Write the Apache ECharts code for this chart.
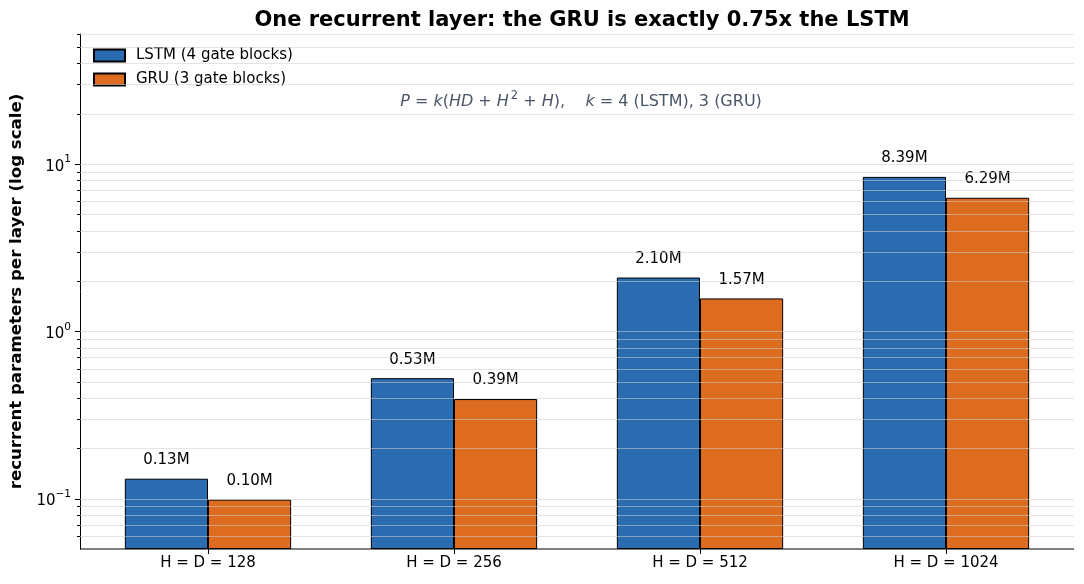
<!DOCTYPE html>
<html>
<head>
<meta charset="utf-8">
<script src="https://cdn.jsdelivr.net/npm/echarts@6/dist/echarts.min.js"></script>
<style>html,body{margin:0;padding:0;background:#fff}#c{width:1084px;height:584px}</style>
</head>
<body>
<div id="c"></div>
<script>
var categories = ['H = D = 128', 'H = D = 256', 'H = D = 512', 'H = D = 1024'];
var lstmValues = [0.1316, 0.5253, 2.0992, 8.3927];
var gruValues = [0.0987, 0.3940, 1.5744, 6.2945];
var majorTicks = [0.1, 1, 10];
var minorTicks = [0.06, 0.07, 0.08, 0.09, 0.2, 0.3, 0.4, 0.5, 0.6, 0.7, 0.8, 0.9,
                  2, 3, 4, 5, 6, 7, 8, 9, 20, 30, 40, 50, 60];

var FONT = 'DejaVu Sans';
var PAD = 5; // matplotlib x-margin beyond the category bands
var chart = echarts.init(document.getElementById('c'), null, {renderer: 'canvas'});

var gridData = [[0, 0.05, 2]]
  .concat(majorTicks.map(function (v) { return [0, v, 1]; }))
  .concat(minorTicks.map(function (v) { return [0, v, 0]; }));

function supLabel(v) {
  var e = Math.round(Math.log10(v));
  if (Math.abs(Math.log10(v) - e) > 1e-6) return '';
  var s = e < 0 ? '\u2212' + (-e) : String(e);
  return '{b|10}{s|' + s + '}';
}

var fStyle = {fontFamily: FONT, fontSize: 16, fontWeight: 'normal', color: '#4a5568', lineHeight: 22, verticalAlign: 'bottom'};
function ext(o, extra) { var r = {}; for (var k in o) r[k] = o[k]; for (var k2 in extra) r[k2] = extra[k2]; return r; }

var option = {
  animation: false,
  title: [
    {
      text: 'One recurrent layer: the GRU is exactly 0.75x the LSTM',
      left: 577, top: 5, textAlign: 'center',
      textStyle: {fontFamily: FONT, fontSize: 21, fontWeight: 'bold', color: '#000'}
    },
    {
      text: '{i|P}{r| = }{i|k}{r|(}{i|HD}{r| + }{i|H}{s|2}{r| + }{i|H}{r|),    }{i|k}{r| = 4 (LSTM), 3 (GRU)}',
      left: 576, top: 83, textAlign: 'center',
      textStyle: {
        fontWeight: 'normal',
        rich: {
          i: ext(fStyle, {fontStyle: 'italic'}),
          r: fStyle,
          s: ext(fStyle, {fontSize: 11.5, verticalAlign: 'top', padding: [2, 0, 0, 2]})
        }
      }
    }
  ],
  legend: {
    orient: 'vertical', left: 88, top: 43,
    itemWidth: 31, itemHeight: 12, itemGap: 9,
    icon: 'rect',
    data: ['LSTM (4 gate blocks)', 'GRU (3 gate blocks)'],
    textStyle: {fontFamily: FONT, fontSize: 15, color: '#000', padding: [0, 0, 0, 6]}
  },
  grid: {left: 80 + PAD, right: 10 + PAD, top: 34, bottom: 35, containLabel: false},
  xAxis: {
    type: 'category', data: categories,
    axisLine: {show: false},
    axisTick: {show: true, alignWithLabel: true, length: 5, lineStyle: {color: '#000'}},
    axisLabel: {fontFamily: FONT, fontSize: 15, color: '#000', margin: 7},
    splitLine: {show: false}
  },
  yAxis: {
    type: 'log', logBase: 10, min: 0.05, max: 60, startValue: 0.05,
    offset: PAD,
    name: 'recurrent parameters per layer (log scale)',
    nameLocation: 'middle', nameGap: 46,
    nameTextStyle: {fontFamily: FONT, fontSize: 16.6, fontWeight: 'bold', color: '#000'},
    axisLine: {show: true, lineStyle: {color: '#000', width: 1}},
    axisTick: {show: false},
    splitLine: {show: false},
    axisLabel: {
      showMinLabel: false, showMaxLabel: false, margin: 9,
      formatter: supLabel,
      rich: {
        b: {fontFamily: FONT, fontSize: 15, color: '#000', lineHeight: 20, verticalAlign: 'bottom'},
        s: {fontFamily: FONT, fontSize: 10.5, color: '#000', lineHeight: 20, verticalAlign: 'top'}
      }
    }
  },
  series: [
    {
      name: 'LSTM (4 gate blocks)', type: 'bar', data: lstmValues,
      barWidth: '33.8%', barGap: '0%', z: 2,
      itemStyle: {color: '#2b6cb0', borderColor: '#000', borderWidth: 1},
      label: {show: true, position: 'top', distance: 11, fontFamily: FONT, fontSize: 15, color: '#000',
              formatter: function (p) { return p.value.toFixed(2) + 'M'; }}
    },
    {
      name: 'GRU (3 gate blocks)', type: 'bar', data: gruValues,
      barWidth: '33.8%', barGap: '0%', z: 2,
      itemStyle: {color: '#dd6b20', borderColor: '#000', borderWidth: 1},
      label: {show: true, position: 'top', distance: 11, fontFamily: FONT, fontSize: 15, color: '#000',
              formatter: function (p) { return p.value.toFixed(2) + 'M'; }}
    },
    {
      name: 'grid', type: 'custom', data: gridData, z: 5, silent: true,
      encode: {x: 0, y: 1},
      renderItem: function (params, api) {
        var cs = params.coordSys;
        var y = Math.round(api.coord([0, api.value(1)])[1]) + 0.5;
        var kind = api.value(2);
        var x0 = cs.x - PAD, x1 = cs.x + cs.width + PAD;
        if (kind === 2) {
          return {type: 'line', shape: {x1: x0, y1: y - 0.5, x2: x1, y2: y - 0.5},
                  style: {stroke: '#000', lineWidth: 1}, z2: 10};
        }
        return {
          type: 'group',
          children: [
            {type: 'line', shape: {x1: x0, y1: y, x2: x1, y2: y},
             style: {stroke: 'rgba(205,205,205,0.55)', lineWidth: 1}},
            {type: 'line', shape: {x1: x0 - (kind === 1 ? 5 : 3), y1: y, x2: x0, y2: y},
             style: {stroke: '#000', lineWidth: 1}}
          ]
        };
      }
    }
  ]
};
chart.setOption(option);
</script>
</body>
</html>
